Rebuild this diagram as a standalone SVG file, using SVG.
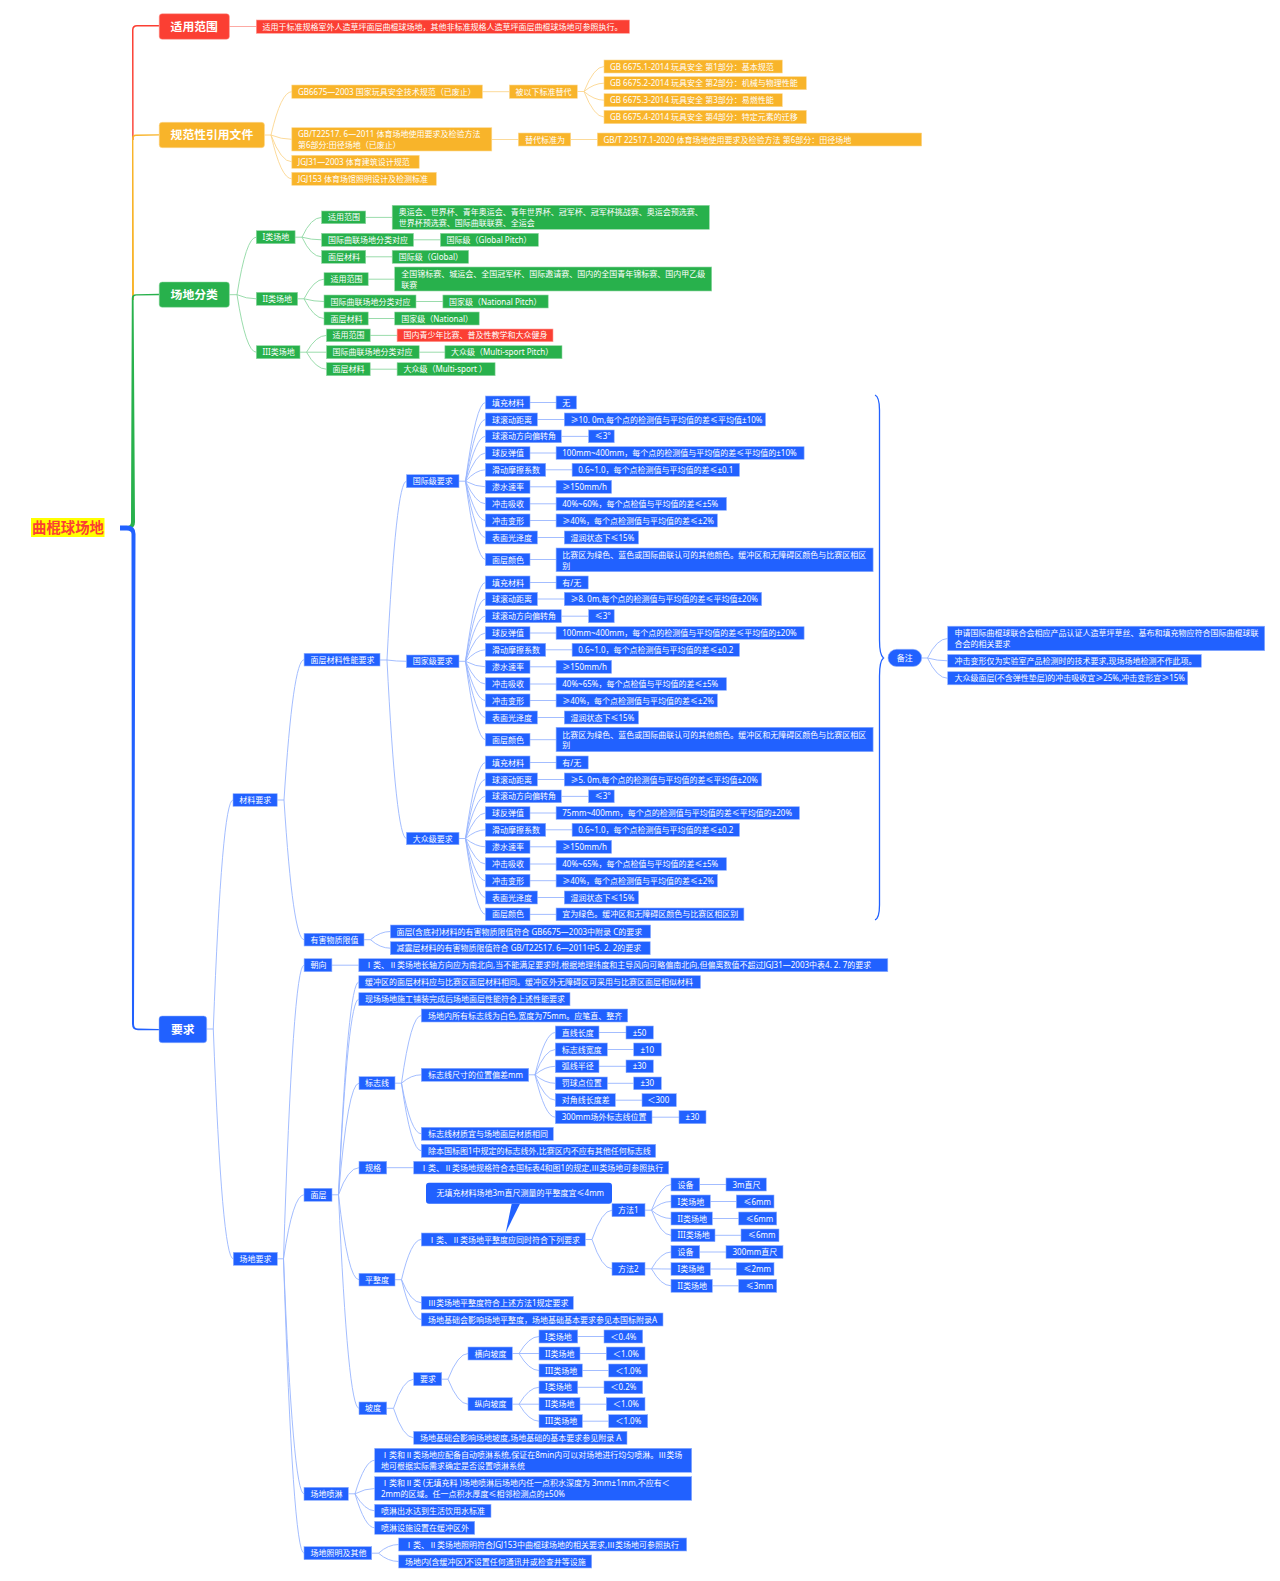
<svg xmlns="http://www.w3.org/2000/svg" width="1280" height="1581" viewBox="0 0 1280 1581">
<style>
text{fill:#fff;font-family:"Noto Sans","Noto Sans CJK SC",sans-serif;font-size:8px}
.r rect{fill:#fb3f33;stroke:#fd9f99;stroke-width:.6}
.o rect{fill:#f8b42a;stroke:#fcd995;stroke-width:.6}
.g rect{fill:#28b14c;stroke:#93d8a5;stroke-width:.6}
.b rect{fill:#2161ff;stroke:#90b0ff;stroke-width:.6}
.m text{font-size:11.8px;font-weight:700}
.m rect{stroke-width:.5}
#connectors path{fill:none;stroke-width:.9}
#co path{stroke:#fcd68f}
#cg path{stroke:#8fd8a3}
#cb path{stroke:#98b6ff}
#cr path{stroke:#fd9f99}
</style>
<rect width="1280" height="1581" fill="#fff"/>
<g id="connectors">
<g id="trunk" stroke="none">
<path style="fill:#fb3f33;stroke:none" d="M132.2 140L132 30Q132 25 137 25L159 25V26.4L137 26.4Q133.5 26.4 133.5 30L133.6 140Z"/>
<path style="fill:#f8b42a;stroke:none" d="M132 300L132 139Q132 134.6 136 134.6L159 134.3V135.6L136 136Q133.4 136.2 133.4 139L134 300Z"/>
<path style="fill:#28b14c;stroke:none" d="M120 526L128 526Q131 525.5 131 522L131.8 298Q132 294.3 136 294.3L159 293.8V295.2L136 295.6Q133.6 295.7 133.6 298L135 522Q135 528 129 529L120 529Z"/>
<path style="fill:#2161ff;stroke:none" d="M120 525.5L127 525.5Q135.5 525.5 135.5 534L134 1024Q134 1028.5 138 1028.5L159 1028.9V1030.2L138 1030.2Q132 1030.2 132 1024L131.5 534Q131.5 530.5 127 530.5L120 530.5Z"/>
</g>
<g id="cr"><path d="M229.4 26.5H256.3"/></g>
<g id="co">
<path d="M264.5 135H271M271 135Q281 91.7 291.8 91.7M271 135Q281 139.3 291.8 139.3M271 135Q281 161.8 291.8 161.8M271 135Q281 178.8 291.8 178.8"/>
<path d="M482.4 91.7H509.4M577.3 91.5H584M584 91.5Q594 66.5 604 66.5M584 91.5Q594 83.2 604 83.2M584 91.5Q594 100.2 604 100.2M584 91.5Q594 117 604 117"/>
<path d="M491.8 139.5H518.3M570.7 139.5H597.3"/>
</g>
<g id="cg">
<path d="M229.4 294.7H237M237 294.7Q246 237.2 256.3 237.2M237 294.7Q246 298.8 256.3 298.8M237 294.7Q246 352.2 256.3 352.2"/>
<path d="M295.1 237.2H302M302 237.2Q311 217.4 321.6 217.4M302 237.2Q311 239.8 321.6 239.8M302 237.2Q311 256.8 321.6 256.8"/>
<path d="M297.6 298.8H304M304 298.8Q314 279.2 324 279.2M304 298.8Q314 301.5 324 301.5M304 298.8Q314 318.5 324 318.5"/>
<path d="M300 352.2H306.5M306.5 352.2Q316 335.4 326.5 335.4M306.5 352.2H326.5M306.5 352.2Q316 369.2 326.5 369.2"/>
<path d="M365.7 217.4H392.2M413.5 239.8H440.4M365.7 256.8H392.2M368.2 279.2H394.7M416 301.5H442.9M368.2 318.5H394.7M370.2 335.4H397.1M419.2 352.2H444.9M370.2 369.2H397.1"/>
</g>
<g id="cb">
<path d="M206.7 1029H213.3M213.3 1029Q222 800 233 800M213.3 1029Q222 1258.8 233.3 1258.8"/>
<path d="M277.2 800H284M284 800Q293 659.7 304.1 659.7M284 800Q293 939.7 304.1 939.7"/>
<path d="M380 660H387M387 660Q396 481.2 406.5 481.2M387 660Q396 661.3 406.5 661.3M387 660Q396 838.5 406.5 838.5"/>
<path d="M459 481.2H465.5M465.5 481.2Q476 402.5 485.4 402.5M465.5 481.2Q476 419.5 485.4 419.5M465.5 481.2Q476 436.4 485.4 436.4M465.5 481.2Q476 453 485.4 453M465.5 481.2Q476 469.8 485.4 469.8M465.5 481.2Q476 486.8 485.4 486.8M465.5 481.2Q476 503.8 485.4 503.8M465.5 481.2Q476 520.5 485.4 520.5M465.5 481.2Q476 537.5 485.4 537.5M465.5 481.2Q476 559.5 485.4 559.5"/>
<path d="M459 661.3H465.5M465.5 661.3Q476 582.5 485.4 582.5M465.5 661.3Q476 599 485.4 599M465.5 661.3Q476 616.2 485.4 616.2M465.5 661.3Q476 633 485.4 633M465.5 661.3Q476 649.8 485.4 649.8M465.5 661.3Q476 666.8 485.4 666.8M465.5 661.3Q476 684 485.4 684M465.5 661.3Q476 700.5 485.4 700.5M465.5 661.3Q476 717.5 485.4 717.5M465.5 661.3Q476 739.7 485.4 739.7"/>
<path d="M459 838.5H465.5M465.5 838.5Q476 762.5 485.4 762.5M465.5 838.5Q476 779.5 485.4 779.5M465.5 838.5Q476 796.4 485.4 796.4M465.5 838.5Q476 813 485.4 813M465.5 838.5Q476 829.8 485.4 829.8M465.5 838.5Q476 846.8 485.4 846.8M465.5 838.5Q476 864 485.4 864M465.5 838.5Q476 880.7 485.4 880.7M465.5 838.5Q476 897.5 485.4 897.5M465.5 838.5Q476 914.4 485.4 914.4"/>
<path d="M530 402.5H556.1M537.4 419.5H564.3M561.3 436.4H588.6M530 453H556.1M545.7 469.8H572.1M530 486.8H556.1M530 503.8H556.1M530 520.5H556.1M537.4 537.5H564.3M530 559.5H556.1"/>
<path d="M530 582.5H556.1M537.4 599H564.3M561.3 616.2H588.6M530 633H556.1M545.7 649.8H572.1M530 666.8H556.1M530 684H556.1M530 700.5H556.1M537.4 717.5H564.3M530 739.7H556.1"/>
<path d="M530 762.5H556.1M537.4 779.5H564.3M561.3 796.4H588.6M530 813H556.1M545.7 829.8H572.1M530 846.8H556.1M530 864H556.1M530 880.7H556.1M537.4 897.5H564.3M530 914.4H556.1"/>
<path d="M364 939.7H370.5M370.5 939.7Q380 931.5 390.4 931.5M370.5 939.7Q380 948.2 390.4 948.2"/>
<path d="M277.3 1258.8H283.5M283.5 1258.8Q293 965.2 304 965.2M283.5 1258.8Q293 1194.8 304 1194.8M283.5 1258.8Q293 1493.8 304 1493.8M283.5 1258.8Q293 1553.2 304 1553.2"/>
<path d="M331.9 965.2H358.8"/>
<path d="M332 1194.8H338.5M338.5 1194.8Q348 982 358.8 982M338.5 1194.8Q348 999.2 358.8 999.2M338.5 1194.8Q348 1083.2 359 1083.2M338.5 1194.8Q348 1167.7 359 1167.7M338.5 1194.8Q348 1279.7 359 1279.7M338.5 1194.8Q348 1408.3 359 1408.3"/>
<path d="M395 1083.2H401.5M401.5 1083.2Q411 1015.5 421.3 1015.5M401.5 1083.2Q411 1074.8 421.3 1074.8M401.5 1083.2Q411 1133.8 421.3 1133.8M401.5 1083.2Q411 1150.8 421.3 1150.8"/>
<path d="M528.7 1074.8H535M535 1074.8Q545 1032.5 555.3 1032.5M535 1074.8Q545 1049.5 555.3 1049.5M535 1074.8Q545 1066.3 555.3 1066.3M535 1074.8Q545 1083.3 555.3 1083.3M535 1074.8Q545 1100.2 555.3 1100.2M535 1074.8Q545 1117.2 555.3 1117.2"/>
<path d="M599 1032.5H626M607.3 1049.5H633.7M599 1066.3H626M607.3 1083.3H633.7M615.3 1100.2H642M652 1117.2H679M386.7 1167.7H413.7"/>
<path d="M395 1279.7H401.5M401.5 1279.7Q411 1239.5 421.3 1239.5M401.5 1279.7Q411 1302.8 421.3 1302.8M401.5 1279.7Q411 1319.5 421.3 1319.5"/>
<path d="M585.3 1239.5H592M592 1239.5Q602 1210.2 612 1210.2M592 1239.5Q602 1268.8 612 1268.8"/>
<path d="M645 1210.2H651.5M651.5 1210.2Q661 1184.5 671 1184.5M651.5 1210.2Q661 1201.5 671 1201.5M651.5 1210.2Q661 1218.5 671 1218.5M651.5 1210.2Q661 1235.3 671 1235.3"/>
<path d="M645 1268.8H651.5M651.5 1268.8Q661 1252 671 1252M651.5 1268.8Q661 1269 671 1269M651.5 1268.8Q661 1285.8 671 1285.8"/>
<path d="M699.7 1184.5H726M710.3 1201.5H736.3M712.3 1218.5H738.7M715 1235.3H741M699.7 1252H726M710.3 1269H736.3M712.3 1285.8H738.7"/>
<path d="M386.7 1408.3H393.5M393.5 1408.3Q403 1379.2 413.7 1379.2M393.5 1408.3Q403 1437.8 413.7 1437.8"/>
<path d="M441.7 1379.2H448M448 1379.2Q458 1353.5 468 1353.5M448 1379.2Q458 1404.2 468 1404.2"/>
<path d="M512.3 1353.5H519M519 1353.5Q529 1336.5 539 1336.5M519 1353.5H539M519 1353.5Q529 1370.5 539 1370.5"/>
<path d="M512.3 1404.2H519M519 1404.2Q529 1387.3 539 1387.3M519 1404.2H539M519 1404.2Q529 1421.2 539 1421.2"/>
<path d="M577.7 1336.5H604M580 1353.5H606.3M582.3 1370.5H608.7M577.7 1387.3H604M580 1404.2H606.3M582.3 1421.2H608.7"/>
<path d="M348.3 1493.8H355M355 1493.8Q365 1460.3 374.7 1460.3M355 1493.8Q365 1488.5 374.7 1488.5M355 1493.8Q365 1510.8 374.7 1510.8M355 1493.8Q365 1527.8 374.7 1527.8"/>
<path d="M371.7 1553.2H378.5M378.5 1553.2Q388 1544.5 398.7 1544.5M378.5 1553.2Q388 1561.5 398.7 1561.5"/>
<path d="M921.7 658H927.5M927.5 658Q937 638.5 947.7 638.5M927.5 658Q937 660.8 947.7 660.8M927.5 658Q937 678.3 947.7 678.3"/>
<path style="stroke:#2161ff;stroke-width:1.3" d="M875 395Q879.5 397 879.5 410L879.5 640Q879.5 655 883.5 658Q879.5 661 879.5 676L879.5 905Q879.5 918 875 920"/>
</g>
</g>

<g id="root"><rect x="31" y="518" width="73.5" height="19" fill="#ffff00"/><text x="32" y="532.5" style="font-size:14.4px;font-weight:700;fill:#fb3f33">曲棍球场地</text></g>

<g id="n-scope" class="r m"><rect x="159.2" y="13.7" width="70.2" height="25.6" rx="3"/><text x="170.6" y="30.8">适用范围</text></g>
<g id="n-scope-1" class="r"><rect x="256.3" y="20" width="373.2" height="13.3"/><text x="262.5" y="29.6">适用于标准规格室外人造草坪面层曲棍球场地，其他非标准规格人造草坪面层曲棍球场地可参照执行。</text></g>

<g id="n-ref" class="o m"><rect x="159.2" y="122.3" width="105.3" height="25.4" rx="3"/><text x="170.6" y="139.3">规范性引用文件</text></g>
<g id="n-ref-1" class="o"><rect x="291.8" y="85" width="190.6" height="13.3"/><text x="298" y="94.6">GB6675—2003 国家玩具安全技术规范（已废止）</text></g>
<g id="n-ref-1a" class="o"><rect x="509.4" y="85" width="67.9" height="13.3"/><text x="515.5" y="94.6">被以下标准替代</text></g>
<g id="n-ref-1a1" class="o"><rect x="604" y="60" width="178.3" height="13"/><text x="610" y="69.5">GB 6675.1-2014 玩具安全 第1部分：基本规范</text></g>
<g id="n-ref-1a2" class="o"><rect x="604" y="76.7" width="202.3" height="13"/><text x="610" y="86.2">GB 6675.2-2014 玩具安全 第2部分：机械与物理性能</text></g>
<g id="n-ref-1a3" class="o"><rect x="604" y="93.7" width="178.3" height="13"/><text x="610" y="103.2">GB 6675.3-2014 玩具安全 第3部分：易燃性能</text></g>
<g id="n-ref-1a4" class="o"><rect x="604" y="110.3" width="202.3" height="13.4"/><text x="610" y="120">GB 6675.4-2014 玩具安全 第4部分：特定元素的迁移</text></g>
<g id="n-ref-2" class="o"><rect x="291.8" y="127.7" width="200" height="23.3"/><text x="298" y="137">GB/T22517. 6—2011 体育场地使用要求及检验方法</text><text x="298" y="147.9">第6部分:田径场地（已废止）</text></g>
<g id="n-ref-2a" class="o"><rect x="518.3" y="133" width="52.4" height="13"/><text x="525" y="142.5">替代标准为</text></g>
<g id="n-ref-2b" class="o"><rect x="597.3" y="133" width="324.4" height="13"/><text x="603.5" y="142.5">GB/T 22517.1-2020 体育场地使用要求及检验方法 第6部分：田径场地</text></g>
<g id="n-ref-3" class="o"><rect x="291.8" y="155.3" width="127.4" height="13"/><text x="298" y="164.8">JGJ31—2003 体育建筑设计规范</text></g>
<g id="n-ref-4" class="o"><rect x="291.8" y="172.3" width="144.5" height="13"/><text x="298" y="181.8">JGJ153 体育场馆照明设计及检测标准</text></g>

<g id="n-cls" class="g m"><rect x="159.2" y="282" width="70.2" height="25.3" rx="3"/><text x="170.6" y="299">场地分类</text></g>
<g id="n-c1" class="g"><rect x="256.3" y="230.7" width="38.8" height="13"/><text x="262.5" y="240.2">I类场地</text></g>
<g id="n-c1a" class="g"><rect x="321.6" y="211" width="44.1" height="12.7"/><text x="328" y="220.4">适用范围</text></g>
<g id="n-c1a1" class="g"><rect x="392.2" y="205.3" width="317.1" height="24"/><text x="398.8" y="215.3">奥运会、世界杯、青年奥运会、青年世界杯、冠军杯、冠军杯挑战赛、奥运会预选赛、</text><text x="398.8" y="226">世界杯预选赛、国际曲联联赛、全运会</text></g>
<g id="n-c1b" class="g"><rect x="321.6" y="233.3" width="91.9" height="13"/><text x="328" y="242.8">国际曲联场地分类对应</text></g>
<g id="n-c1b1" class="g"><rect x="440.4" y="233.3" width="98" height="13"/><text x="446.6" y="242.8">国际级（Global Pitch）</text></g>
<g id="n-c1c" class="g"><rect x="321.6" y="250.3" width="44.1" height="13"/><text x="328" y="259.8">面层材料</text></g>
<g id="n-c1c1" class="g"><rect x="392.2" y="250.3" width="76.4" height="13"/><text x="398.8" y="259.8">国际级（Global）</text></g>
<g id="n-c2" class="g"><rect x="256.3" y="292.3" width="41.3" height="13"/><text x="262.5" y="301.8">II类场地</text></g>
<g id="n-c2a" class="g"><rect x="324" y="272.7" width="44.2" height="13"/><text x="330.4" y="282.2">适用范围</text></g>
<g id="n-c2a1" class="g"><rect x="394.7" y="267" width="317" height="24"/><text x="401.2" y="277">全国锦标赛、城运会、全国冠军杯、国际邀请赛、国内的全国青年锦标赛、国内甲乙级</text><text x="401.2" y="287.7">联赛</text></g>
<g id="n-c2b" class="g"><rect x="324" y="295" width="92" height="13"/><text x="330.4" y="304.5">国际曲联场地分类对应</text></g>
<g id="n-c2b1" class="g"><rect x="442.9" y="295" width="105.3" height="13"/><text x="449" y="304.5">国家级（National Pitch）</text></g>
<g id="n-c2c" class="g"><rect x="324" y="312" width="44.2" height="13"/><text x="330.4" y="321.5">面层材料</text></g>
<g id="n-c2c1" class="g"><rect x="394.7" y="312" width="84.5" height="13"/><text x="401.2" y="321.5">国家级（National）</text></g>
<g id="n-c3" class="g"><rect x="256.3" y="345.7" width="43.7" height="13"/><text x="262.5" y="355.2">III类场地</text></g>
<g id="n-c3a" class="g"><rect x="326.5" y="329" width="43.7" height="12.7"/><text x="332.6" y="338.4">适用范围</text></g>
<g id="n-c3a1" class="r"><rect x="397.1" y="329" width="155.9" height="12.7"/><text x="403.4" y="338.4">国内青少年比赛、普及性教学和大众健身</text></g>
<g id="n-c3b" class="g"><rect x="326.5" y="345.7" width="92.7" height="13"/><text x="332.6" y="355.2">国际曲联场地分类对应</text></g>
<g id="n-c3b1" class="g"><rect x="444.9" y="345.7" width="117.1" height="13"/><text x="451" y="355.2">大众级（Multi-sport Pitch）</text></g>
<g id="n-c3c" class="g"><rect x="326.5" y="362.7" width="43.7" height="13"/><text x="332.6" y="372.2">面层材料</text></g>
<g id="n-c3c1" class="g"><rect x="397.1" y="362.7" width="98" height="13"/><text x="403.4" y="372.2">大众级（Multi-sport ）</text></g>

<g id="n-req" class="b m"><rect x="159" y="1016" width="47.7" height="26.7" rx="3"/><text x="171" y="1033.5">要求</text></g>
<g id="n-mat" class="b"><rect x="233" y="793.7" width="44.2" height="12.6"/><text x="239.2" y="803">材料要求</text></g>
<g id="n-perf" class="b"><rect x="304.1" y="653.3" width="75.9" height="12.7"/><text x="310.4" y="662.7">面层材料性能要求</text></g>

<g id="n-p1" class="b"><rect x="406.5" y="474.7" width="52.5" height="13"/><text x="412.8" y="484.2">国际级要求</text></g>
<g id="n-p1a" class="b"><rect x="485.4" y="396" width="44.6" height="13"/><text x="491.9" y="405.5">填充材料</text></g>
<g id="n-p1a1" class="b"><rect x="556.1" y="396" width="20.4" height="13"/><text x="562.3" y="405.5">无</text></g>
<g id="n-p1b" class="b"><rect x="485.4" y="413" width="52" height="13"/><text x="491.9" y="422.5">球滚动距离</text></g>
<g id="n-p1b1" class="b"><rect x="564.3" y="413" width="201.2" height="13"/><text x="570.5" y="422.5">≥10. 0m,每个点的检测值与平均值的差≤平均值±10%</text></g>
<g id="n-p1c" class="b"><rect x="485.4" y="430" width="75.9" height="12.7"/><text x="491.9" y="439.4">球滚动方向偏转角</text></g>
<g id="n-p1c1" class="b"><rect x="588.6" y="430" width="25.6" height="12.7"/><text x="594.8" y="439.4">≤3°</text></g>
<g id="n-p1d" class="b"><rect x="485.4" y="446.7" width="44.6" height="12.6"/><text x="491.9" y="456">球反弹值</text></g>
<g id="n-p1d1" class="b"><rect x="556.1" y="446.7" width="248" height="12.6"/><text x="562.3" y="456">100mm~400mm，每个点的检测值与平均值的差≤平均值的±10%</text></g>
<g id="n-p1e" class="b"><rect x="485.4" y="463.3" width="60.3" height="13"/><text x="491.9" y="472.8">滑动摩擦系数</text></g>
<g id="n-p1e1" class="b"><rect x="572.1" y="463.3" width="167.4" height="13"/><text x="578.3" y="472.8">0.6~1.0，每个点检测值与平均值的差≤±0.1</text></g>
<g id="n-p1f" class="b"><rect x="485.4" y="480.3" width="44.6" height="13"/><text x="491.9" y="489.8">渗水速率</text></g>
<g id="n-p1f1" class="b"><rect x="556.1" y="480.3" width="55.5" height="13"/><text x="562.3" y="489.8">≥150mm/h</text></g>
<g id="n-p1g" class="b"><rect x="485.4" y="497.3" width="44.6" height="13"/><text x="491.9" y="506.8">冲击吸收</text></g>
<g id="n-p1g1" class="b"><rect x="556.1" y="497.3" width="170.4" height="13"/><text x="562.3" y="506.8">40%~60%，每个点检值与平均值的差≤±5%</text></g>
<g id="n-p1h" class="b"><rect x="485.4" y="514" width="44.6" height="13"/><text x="491.9" y="523.5">冲击变形</text></g>
<g id="n-p1h1" class="b"><rect x="556.1" y="514" width="161.3" height="13"/><text x="562.3" y="523.5">≥40%，每个点检测值与平均值的差≤±2%</text></g>
<g id="n-p1i" class="b"><rect x="485.4" y="531" width="52" height="13"/><text x="491.9" y="540.5">表面光泽度</text></g>
<g id="n-p1i1" class="b"><rect x="564.3" y="531" width="74.2" height="13"/><text x="570.5" y="540.5">湿润状态下≤15%</text></g>
<g id="n-p1j" class="b"><rect x="485.4" y="553.3" width="44.6" height="12.4"/><text x="491.9" y="562.5">面层颜色</text></g>
<g id="n-p1j1" class="b"><rect x="556.1" y="548" width="317" height="23.7"/><text x="562.3" y="557.8">比赛区为绿色、蓝色或国际曲联认可的其他颜色。缓冲区和无障碍区颜色与比赛区相区</text><text x="562.3" y="568.5">别</text></g>

<g id="n-p2" class="b"><rect x="406.5" y="655" width="52.5" height="12.7"/><text x="412.8" y="664.4">国家级要求</text></g>
<g id="n-p2a" class="b"><rect x="485.4" y="576" width="44.6" height="13"/><text x="491.9" y="585.5">填充材料</text></g>
<g id="n-p2a1" class="b"><rect x="556.1" y="576" width="32.1" height="13"/><text x="562.3" y="585.5">有/无</text></g>
<g id="n-p2b" class="b"><rect x="485.4" y="592.3" width="52" height="13.4"/><text x="491.9" y="602">球滚动距离</text></g>
<g id="n-p2b1" class="b"><rect x="564.3" y="592.3" width="197.3" height="13.4"/><text x="570.5" y="602">≥8. 0m,每个点的检测值与平均值的差≤平均值±20%</text></g>
<g id="n-p2c" class="b"><rect x="485.4" y="609.7" width="75.9" height="13"/><text x="491.9" y="619.2">球滚动方向偏转角</text></g>
<g id="n-p2c1" class="b"><rect x="588.6" y="609.7" width="25.6" height="13"/><text x="594.8" y="619.2">≤3°</text></g>
<g id="n-p2d" class="b"><rect x="485.4" y="626.7" width="44.6" height="12.6"/><text x="491.9" y="636">球反弹值</text></g>
<g id="n-p2d1" class="b"><rect x="556.1" y="626.7" width="248" height="12.6"/><text x="562.3" y="636">100mm~400mm，每个点的检测值与平均值的差≤平均值的±20%</text></g>
<g id="n-p2e" class="b"><rect x="485.4" y="643.3" width="60.3" height="13"/><text x="491.9" y="652.8">滑动摩擦系数</text></g>
<g id="n-p2e1" class="b"><rect x="572.1" y="643.3" width="167.4" height="13"/><text x="578.3" y="652.8">0.6~1.0，每个点检测值与平均值的差≤±0.2</text></g>
<g id="n-p2f" class="b"><rect x="485.4" y="660.3" width="44.6" height="13"/><text x="491.9" y="669.8">渗水速率</text></g>
<g id="n-p2f1" class="b"><rect x="556.1" y="660.3" width="55.5" height="13"/><text x="562.3" y="669.8">≥150mm/h</text></g>
<g id="n-p2g" class="b"><rect x="485.4" y="677.7" width="44.6" height="12.6"/><text x="491.9" y="687">冲击吸收</text></g>
<g id="n-p2g1" class="b"><rect x="556.1" y="677.7" width="170.4" height="12.6"/><text x="562.3" y="687">40%~65%，每个点检值与平均值的差≤±5%</text></g>
<g id="n-p2h" class="b"><rect x="485.4" y="694" width="44.6" height="13"/><text x="491.9" y="703.5">冲击变形</text></g>
<g id="n-p2h1" class="b"><rect x="556.1" y="694" width="161.3" height="13"/><text x="562.3" y="703.5">≥40%，每个点检测值与平均值的差≤±2%</text></g>
<g id="n-p2i" class="b"><rect x="485.4" y="711" width="52" height="13"/><text x="491.9" y="720.5">表面光泽度</text></g>
<g id="n-p2i1" class="b"><rect x="564.3" y="711" width="74.2" height="13"/><text x="570.5" y="720.5">湿润状态下≤15%</text></g>
<g id="n-p2j" class="b"><rect x="485.4" y="733.3" width="44.6" height="12.7"/><text x="491.9" y="742.7">面层颜色</text></g>
<g id="n-p2j1" class="b"><rect x="556.1" y="727.3" width="317" height="24.4"/><text x="562.3" y="737.5">比赛区为绿色、蓝色或国际曲联认可的其他颜色。缓冲区和无障碍区颜色与比赛区相区</text><text x="562.3" y="748.2">别</text></g>

<g id="n-p3" class="b"><rect x="406.5" y="832.3" width="52.5" height="12.4"/><text x="412.8" y="841.5">大众级要求</text></g>
<g id="n-p3a" class="b"><rect x="485.4" y="756" width="44.6" height="13"/><text x="491.9" y="765.5">填充材料</text></g>
<g id="n-p3a1" class="b"><rect x="556.1" y="756" width="32.1" height="13"/><text x="562.3" y="765.5">有/无</text></g>
<g id="n-p3b" class="b"><rect x="485.4" y="773" width="52" height="13"/><text x="491.9" y="782.5">球滚动距离</text></g>
<g id="n-p3b1" class="b"><rect x="564.3" y="773" width="197.3" height="13"/><text x="570.5" y="782.5">≥5. 0m,每个点的检测值与平均值的差≤平均值±20%</text></g>
<g id="n-p3c" class="b"><rect x="485.4" y="790" width="75.9" height="12.7"/><text x="491.9" y="799.4">球滚动方向偏转角</text></g>
<g id="n-p3c1" class="b"><rect x="588.6" y="790" width="25.6" height="12.7"/><text x="594.8" y="799.4">≤3°</text></g>
<g id="n-p3d" class="b"><rect x="485.4" y="806.7" width="44.6" height="12.6"/><text x="491.9" y="816">球反弹值</text></g>
<g id="n-p3d1" class="b"><rect x="556.1" y="806.7" width="243.3" height="12.6"/><text x="562.3" y="816">75mm~400mm，每个点的检测值与平均值的差≤平均值的±20%</text></g>
<g id="n-p3e" class="b"><rect x="485.4" y="823.3" width="60.3" height="13"/><text x="491.9" y="832.8">滑动摩擦系数</text></g>
<g id="n-p3e1" class="b"><rect x="572.1" y="823.3" width="167.4" height="13"/><text x="578.3" y="832.8">0.6~1.0，每个点检测值与平均值的差≤±0.2</text></g>
<g id="n-p3f" class="b"><rect x="485.4" y="840.3" width="44.6" height="13"/><text x="491.9" y="849.8">渗水速率</text></g>
<g id="n-p3f1" class="b"><rect x="556.1" y="840.3" width="55.5" height="13"/><text x="562.3" y="849.8">≥150mm/h</text></g>
<g id="n-p3g" class="b"><rect x="485.4" y="857.7" width="44.6" height="12.6"/><text x="491.9" y="867">冲击吸收</text></g>
<g id="n-p3g1" class="b"><rect x="556.1" y="857.7" width="170.4" height="12.6"/><text x="562.3" y="867">40%~65%，每个点检值与平均值的差≤±5%</text></g>
<g id="n-p3h" class="b"><rect x="485.4" y="874.3" width="44.6" height="12.7"/><text x="491.9" y="883.7">冲击变形</text></g>
<g id="n-p3h1" class="b"><rect x="556.1" y="874.3" width="161.3" height="12.7"/><text x="562.3" y="883.7">≥40%，每个点检测值与平均值的差≤±2%</text></g>
<g id="n-p3i" class="b"><rect x="485.4" y="891" width="52" height="13"/><text x="491.9" y="900.5">表面光泽度</text></g>
<g id="n-p3i1" class="b"><rect x="564.3" y="891" width="74.2" height="13"/><text x="570.5" y="900.5">湿润状态下≤15%</text></g>
<g id="n-p3j" class="b"><rect x="485.4" y="908" width="44.6" height="12.7"/><text x="491.9" y="917.4">面层颜色</text></g>
<g id="n-p3j1" class="b"><rect x="556.1" y="908" width="187.8" height="12.7"/><text x="562.3" y="917.4">宜为绿色。缓冲区和无障碍区颜色与比赛区相区别</text></g>

<g id="n-note" class="b"><rect x="888" y="649.3" width="33.7" height="17.2" rx="8.6"/><text x="896.7" y="661">备注</text></g>
<g id="n-note1" class="b"><rect x="947.7" y="626.2" width="317" height="24.5"/><text x="954.4" y="636.4">申请国际曲棍球联合会相应产品认证人造草坪草丝、基布和填充物应符合国际曲棍球联</text><text x="954.4" y="647.2">合会的相关要求</text></g>
<g id="n-note2" class="b"><rect x="947.7" y="654.5" width="253.6" height="12.7"/><text x="954.4" y="663.9">冲击变形仅为实验室产品检测时的技术要求,现场场地检测不作此项。</text></g>
<g id="n-note3" class="b"><rect x="947.7" y="671.7" width="240" height="13.1"/><text x="954.4" y="681.2">大众级面层(不含弹性垫层)的冲击吸收宜≥25%,冲击变形宜≥15%</text></g>

<g id="n-harm" class="b"><rect x="304.1" y="933.3" width="59.9" height="12.7"/><text x="310.4" y="942.7">有害物质限值</text></g>
<g id="n-harm1" class="b"><rect x="390.4" y="925" width="260.2" height="13"/><text x="396.6" y="934.5">面层(含底衬)材料的有害物质限值符合 GB6675—2003中附录 C的要求</text></g>
<g id="n-harm2" class="b"><rect x="390.4" y="941.7" width="259.8" height="13"/><text x="396.6" y="951.2">减震层材料的有害物质限值符合 GB/T22517. 6—2011中5. 2. 2的要求</text></g>

<g id="n-site" class="b"><rect x="233.3" y="1252.3" width="44" height="13"/><text x="239.4" y="1261.8">场地要求</text></g>
<g id="n-ori" class="b"><rect x="304.1" y="958.7" width="27.8" height="13"/><text x="310.4" y="968.2">朝向</text></g>
<g id="n-ori1" class="b"><rect x="358.8" y="958.7" width="529" height="13"/><text x="365" y="968.2">Ⅰ类、Ⅱ类场地长轴方向应为南北向,当不能满足要求时,根据地理纬度和主导风向可略偏南北向,但偏离数值不超过JGJ31—2003中表4. 2. 7的要求</text></g>
<g id="n-surf" class="b"><rect x="304" y="1188.3" width="28" height="13"/><text x="310.4" y="1197.8">面层</text></g>
<g id="n-s1" class="b"><rect x="358.8" y="975.7" width="341.7" height="12.6"/><text x="365" y="985">缓冲区的面层材料应与比赛区面层材料相同。缓冲区外无障碍区可采用与比赛区面层相似材料</text></g>
<g id="n-s2" class="b"><rect x="358.8" y="992.7" width="211.2" height="13"/><text x="365" y="1002.2">现场场地施工铺装完成后场地面层性能符合上述性能要求</text></g>
<g id="n-line" class="b"><rect x="359" y="1076.7" width="36" height="13"/><text x="365" y="1086.2">标志线</text></g>
<g id="n-l1" class="b"><rect x="421.3" y="1009" width="206.4" height="13"/><text x="428" y="1018.5">场地内所有标志线为白色,宽度为75mm。应笔直、整齐</text></g>
<g id="n-l2" class="b"><rect x="421.3" y="1068.3" width="107.4" height="13"/><text x="428" y="1077.8">标志线尺寸的位置偏差mm</text></g>
<g id="n-l2a" class="b"><rect x="555.3" y="1026" width="43.7" height="13"/><text x="561.8" y="1035.5">直线长度</text></g>
<g id="n-l2a1" class="b"><rect x="626" y="1026" width="27.3" height="13"/><text x="632.7" y="1035.5">±50</text></g>
<g id="n-l2b" class="b"><rect x="555.3" y="1043" width="52" height="13"/><text x="561.8" y="1052.5">标志线宽度</text></g>
<g id="n-l2b1" class="b"><rect x="633.7" y="1043" width="27.6" height="13"/><text x="640.4" y="1052.5">±10</text></g>
<g id="n-l2c" class="b"><rect x="555.3" y="1060" width="43.7" height="12.7"/><text x="561.8" y="1069.4">弧线半径</text></g>
<g id="n-l2c1" class="b"><rect x="626" y="1060" width="27.3" height="12.7"/><text x="632.7" y="1069.4">±30</text></g>
<g id="n-l2d" class="b"><rect x="555.3" y="1077" width="52" height="12.7"/><text x="561.8" y="1086.4">罚球点位置</text></g>
<g id="n-l2d1" class="b"><rect x="633.7" y="1077" width="27.6" height="12.7"/><text x="640.4" y="1086.4">±30</text></g>
<g id="n-l2e" class="b"><rect x="555.3" y="1093.7" width="60" height="13"/><text x="561.8" y="1103.2">对角线长度差</text></g>
<g id="n-l2e1" class="b"><rect x="642" y="1093.7" width="34.3" height="13"/><text x="647.5" y="1103.2">＜300</text></g>
<g id="n-l2f" class="b"><rect x="555.3" y="1110.7" width="96.7" height="13"/><text x="561.8" y="1120.2">300mm场外标志线位置</text></g>
<g id="n-l2f1" class="b"><rect x="679" y="1110.7" width="27" height="13"/><text x="685.6" y="1120.2">±30</text></g>
<g id="n-l3" class="b"><rect x="421.3" y="1127.3" width="132" height="13"/><text x="428" y="1136.8">标志线材质宜与场地面层材质相同</text></g>
<g id="n-l4" class="b"><rect x="421.3" y="1144.3" width="234.4" height="13"/><text x="428" y="1153.8">除本国标图1中规定的标志线外,比赛区内不应有其他任何标志线</text></g>
<g id="n-spec" class="b"><rect x="359" y="1161.3" width="27.7" height="12.7"/><text x="365" y="1170.7">规格</text></g>
<g id="n-spec1" class="b"><rect x="413.7" y="1161.3" width="255" height="12.7"/><text x="420" y="1170.7">Ⅰ类、Ⅱ类场地规格符合本国标表4和图1的规定,Ⅲ类场地可参照执行</text></g>

<g id="n-flat" class="b"><rect x="359" y="1273.3" width="36" height="12.7"/><text x="365" y="1282.7">平整度</text></g>
<g id="n-f1" class="b"><rect x="421.3" y="1233" width="164" height="13"/><text x="428" y="1242.5">Ⅰ类、Ⅱ类场地平整度应同时符合下列要求</text></g>
<g id="n-callout" class="b"><path d="M511.7 1203.7L505.7 1232.7L520 1203.7Z" fill="#2161ff"/><rect x="426" y="1182.7" width="186" height="21" rx="3" style="stroke:none"/><text x="436.5" y="1196">无填充材料场地3m直尺测量的平整度宜≤4mm</text></g>
<g id="n-m1" class="b"><rect x="612" y="1203.7" width="33" height="13"/><text x="618" y="1213.2">方法1</text></g>
<g id="n-m1a" class="b"><rect x="671" y="1178" width="28.7" height="13"/><text x="677.5" y="1187.5">设备</text></g>
<g id="n-m1a1" class="b"><rect x="726" y="1178" width="40.3" height="13"/><text x="732.5" y="1187.5">3m直尺</text></g>
<g id="n-m1b" class="b"><rect x="671" y="1195" width="39.3" height="13"/><text x="677.5" y="1204.5">I类场地</text></g>
<g id="n-m1b1" class="b"><rect x="736.3" y="1195" width="37.7" height="13"/><text x="743.5" y="1204.5">≤6mm</text></g>
<g id="n-m1c" class="b"><rect x="671" y="1212" width="41.3" height="13"/><text x="677.5" y="1221.5">II类场地</text></g>
<g id="n-m1c1" class="b"><rect x="738.7" y="1212" width="38" height="13"/><text x="745.8" y="1221.5">≤6mm</text></g>
<g id="n-m1d" class="b"><rect x="671" y="1229" width="44" height="12.7"/><text x="677.5" y="1238.4">III类场地</text></g>
<g id="n-m1d1" class="b"><rect x="741" y="1229" width="38" height="12.7"/><text x="748" y="1238.4">≤6mm</text></g>
<g id="n-m2" class="b"><rect x="612" y="1262.3" width="33" height="13"/><text x="618" y="1271.8">方法2</text></g>
<g id="n-m2a" class="b"><rect x="671" y="1245.7" width="28.7" height="12.6"/><text x="677.5" y="1255">设备</text></g>
<g id="n-m2a1" class="b"><rect x="726" y="1245.7" width="57" height="12.6"/><text x="732.5" y="1255">300mm直尺</text></g>
<g id="n-m2b" class="b"><rect x="671" y="1262.7" width="39.3" height="12.6"/><text x="677.5" y="1272">I类场地</text></g>
<g id="n-m2b1" class="b"><rect x="736.3" y="1262.7" width="37.7" height="12.6"/><text x="743.5" y="1272">≤2mm</text></g>
<g id="n-m2c" class="b"><rect x="671" y="1279.3" width="41.3" height="13"/><text x="677.5" y="1288.8">II类场地</text></g>
<g id="n-m2c1" class="b"><rect x="738.7" y="1279.3" width="38" height="13"/><text x="745.8" y="1288.8">≤3mm</text></g>
<g id="n-f2" class="b"><rect x="421.3" y="1296.3" width="152" height="13"/><text x="428" y="1305.8">Ⅲ类场地平整度符合上述方法1规定要求</text></g>
<g id="n-f3" class="b"><rect x="421.3" y="1313" width="241.7" height="13"/><text x="428" y="1322.5">场地基础会影响场地平整度，场地基础基本要求参见本国标附录A</text></g>

<g id="n-slope" class="b"><rect x="359" y="1402" width="27.7" height="12.7"/><text x="365" y="1411.4">坡度</text></g>
<g id="n-sl1" class="b"><rect x="413.7" y="1372.7" width="28" height="13"/><text x="420" y="1382.2">要求</text></g>
<g id="n-h" class="b"><rect x="468" y="1347" width="44.3" height="13"/><text x="474.5" y="1356.5">横向坡度</text></g>
<g id="n-h1" class="b"><rect x="539" y="1330" width="38.7" height="13"/><text x="545" y="1339.5">I类场地</text></g>
<g id="n-h1v" class="b"><rect x="604" y="1330" width="38.7" height="13"/><text x="610.5" y="1339.5">＜0.4%</text></g>
<g id="n-h2" class="b"><rect x="539" y="1347" width="41" height="13"/><text x="545" y="1356.5">II类场地</text></g>
<g id="n-h2v" class="b"><rect x="606.3" y="1347" width="38.7" height="13"/><text x="613" y="1356.5">＜1.0%</text></g>
<g id="n-h3" class="b"><rect x="539" y="1364" width="43.3" height="13"/><text x="545" y="1373.5">III类场地</text></g>
<g id="n-h3v" class="b"><rect x="608.7" y="1364" width="39" height="13"/><text x="615.4" y="1373.5">＜1.0%</text></g>
<g id="n-v" class="b"><rect x="468" y="1397.7" width="44.3" height="13"/><text x="474.5" y="1407.2">纵向坡度</text></g>
<g id="n-v1" class="b"><rect x="539" y="1381" width="38.7" height="12.7"/><text x="545" y="1390.4">I类场地</text></g>
<g id="n-v1v" class="b"><rect x="604" y="1381" width="38.7" height="12.7"/><text x="610.5" y="1390.4">＜0.2%</text></g>
<g id="n-v2" class="b"><rect x="539" y="1397.7" width="41" height="13"/><text x="545" y="1407.2">II类场地</text></g>
<g id="n-v2v" class="b"><rect x="606.3" y="1397.7" width="38.7" height="13"/><text x="613" y="1407.2">＜1.0%</text></g>
<g id="n-v3" class="b"><rect x="539" y="1414.7" width="43.3" height="13"/><text x="545" y="1424.2">III类场地</text></g>
<g id="n-v3v" class="b"><rect x="608.7" y="1414.7" width="39" height="13"/><text x="615.4" y="1424.2">＜1.0%</text></g>
<g id="n-sl2" class="b"><rect x="413.7" y="1431.3" width="213.3" height="13"/><text x="420" y="1440.8">场地基础会影响场地坡度,场地基础的基本要求参见附录 A</text></g>

<g id="n-spr" class="b"><rect x="304" y="1487.3" width="44.3" height="13"/><text x="310.4" y="1496.8">场地喷淋</text></g>
<g id="n-spr1" class="b"><rect x="374.7" y="1448.3" width="317" height="24"/><text x="381" y="1457.8">Ⅰ类和Ⅱ类场地应配备自动喷淋系统,保证在8min内可以对场地进行均匀喷淋。Ⅲ类场</text><text x="381" y="1468.8">地可根据实际需求确定是否设置喷淋系统</text></g>
<g id="n-spr2" class="b"><rect x="374.7" y="1476.7" width="317" height="23.6"/><text x="381" y="1486.2">Ⅰ类和Ⅱ类 (无填充料 )场地喷淋后场地内任一点积水深度为 3mm±1mm,不应有＜</text><text x="381" y="1497">2mm的区域。任一点积水厚度≤相邻检测点的±50%</text></g>
<g id="n-spr3" class="b"><rect x="374.7" y="1504.3" width="116.3" height="13"/><text x="381" y="1513.8">喷淋出水达到生活饮用水标准</text></g>
<g id="n-spr4" class="b"><rect x="374.7" y="1521.3" width="100" height="13"/><text x="381" y="1530.8">喷淋设施设置在缓冲区外</text></g>
<g id="n-lit" class="b"><rect x="304" y="1546.7" width="67.7" height="13"/><text x="310.4" y="1556.2">场地照明及其他</text></g>
<g id="n-lit1" class="b"><rect x="398.7" y="1538" width="288" height="13"/><text x="405" y="1547.5">Ⅰ类、Ⅱ类场地照明符合JGJ153中曲棍球场地的相关要求,Ⅲ类场地可参照执行</text></g>
<g id="n-lit2" class="b"><rect x="398.7" y="1555" width="193" height="13"/><text x="405" y="1564.5">场地内(含缓冲区)不设置任何通讯井或检查井等设施</text></g>
</svg>
